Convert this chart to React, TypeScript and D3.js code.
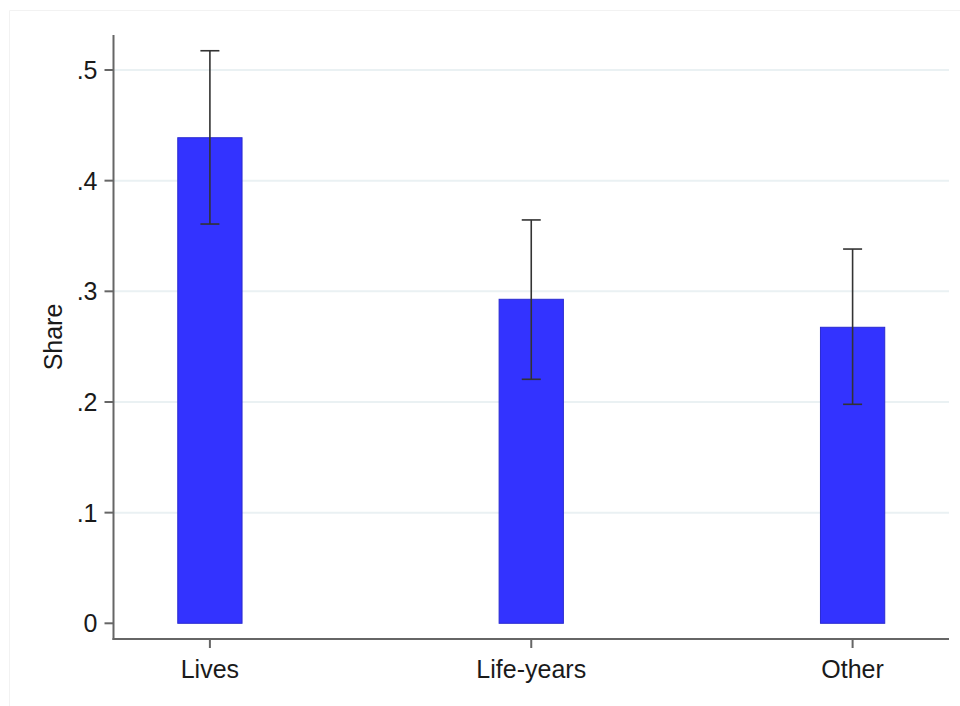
import React from "react";
import * as d3 from "d3";

const categories = ["Lives", "Life-years", "Other"];
const shares = [0.4388, 0.2928, 0.2675];
const ciLow = [0.3608, 0.2205, 0.1979];
const ciHigh = [0.5174, 0.3645, 0.3382];
const yTicks = [0, 0.1, 0.2, 0.3, 0.4, 0.5];
const yTickLabels = ["0", ".1", ".2", ".3", ".4", ".5"];

const W = 960;
const H = 706;
const left = 113.5;
const right = 949;
const top = 35;
const axisY = 639;

export default function App() {
  const y = d3.scaleLinear().domain([0, 0.5]).range([623.3, 70]);
  const x = d3.scalePoint<string>().domain(categories).range([left, right]).padding(0.3);
  const barW = x.step() * 0.2;
  const capW = 19;
  const font = "'Liberation Sans', Arial, sans-serif";

  return (
    <svg
      width={W}
      height={H}
      style={{ position: "absolute", left: 0, top: 0, background: "#fff" }}
      fontFamily={font}
    >
      {/* outer frame */}
      <line x1={9.5} y1={10.5} x2={W} y2={10.5} stroke="#f2f2f2" strokeWidth={1} />
      <line x1={9.5} y1={10.5} x2={9.5} y2={H} stroke="#f2f2f2" strokeWidth={1} />

      {/* gridlines */}
      {yTicks.slice(1).map((t) => (
        <line
          key={"g" + t}
          x1={left}
          x2={right}
          y1={y(t)}
          y2={y(t)}
          stroke="#eaf1f3"
          strokeWidth={2}
        />
      ))}

      {/* bars */}
      {categories.map((c, i) => (
        <rect
          key={"b" + c}
          x={(x(c) as number) - barW / 2}
          y={y(shares[i])}
          width={barW}
          height={y(0) - y(shares[i])}
          fill="#3333ff"
          stroke="#2a2ad0"
          strokeWidth={1}
        />
      ))}

      {/* confidence intervals */}
      {categories.map((c, i) => {
        const cx = x(c) as number;
        return (
          <g key={"e" + c} stroke="#333" strokeWidth={1.6}>
            <line x1={cx} x2={cx} y1={y(ciHigh[i])} y2={y(ciLow[i])} />
            <line x1={cx - capW / 2} x2={cx + capW / 2} y1={y(ciHigh[i])} y2={y(ciHigh[i])} />
            <line x1={cx - capW / 2} x2={cx + capW / 2} y1={y(ciLow[i])} y2={y(ciLow[i])} />
          </g>
        );
      })}

      {/* y axis */}
      <line x1={left} x2={left} y1={top} y2={axisY + 1} stroke="#666" strokeWidth={2} />
      {yTicks.map((t, i) => (
        <g key={"y" + t}>
          <line x1={left - 9} x2={left} y1={y(t)} y2={y(t)} stroke="#666" strokeWidth={2} />
          <text
            x={left - 16}
            y={y(t) + 9}
            textAnchor="end"
            fontSize={25}
            fill="#1a1a1a"
          >
            {yTickLabels[i]}
          </text>
        </g>
      ))}
      <text
        transform={`translate(${62},${(top + axisY) / 2}) rotate(-90)`}
        textAnchor="middle"
        fontSize={25}
        fill="#1a1a1a"
      >
        Share
      </text>

      {/* x axis */}
      <line x1={left - 1} x2={right} y1={axisY} y2={axisY} stroke="#666" strokeWidth={2} />
      {categories.map((c) => (
        <g key={"x" + c}>
          <line
            x1={x(c) as number}
            x2={x(c) as number}
            y1={axisY}
            y2={axisY + 9}
            stroke="#666"
            strokeWidth={2}
          />
          <text x={x(c) as number} y={678} textAnchor="middle" fontSize={25} fill="#1a1a1a">
            {c}
          </text>
        </g>
      ))}
    </svg>
  );
}
